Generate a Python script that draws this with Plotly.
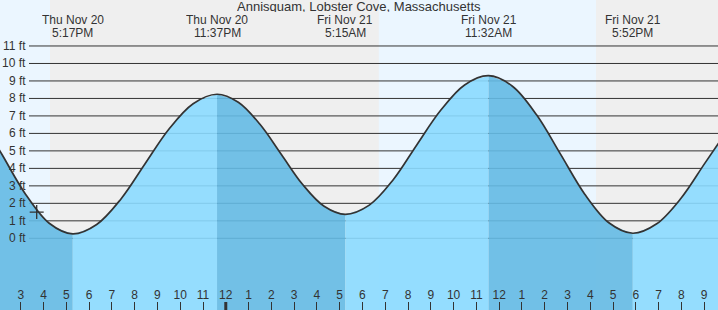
import pandas as pd
import plotly.graph_objects as go

# ---------------- data ----------------
title_text = "Annisquam, Lobster Cove, Massachusetts"

curve_times = [
    "2025-11-20 13:10", "2025-11-20 14:11", "2025-11-20 15:13", "2025-11-20 16:15",
    "2025-11-20 17:17",
    "2025-11-20 18:20", "2025-11-20 19:24", "2025-11-20 20:27", "2025-11-20 21:30",
    "2025-11-20 22:34",
    "2025-11-20 23:37",
    "2025-11-21 00:33", "2025-11-21 01:30", "2025-11-21 02:26", "2025-11-21 03:22",
    "2025-11-21 04:19",
    "2025-11-21 05:15",
    "2025-11-21 06:18", "2025-11-21 07:21", "2025-11-21 08:23", "2025-11-21 09:26",
    "2025-11-21 10:29",
    "2025-11-21 11:32",
    "2025-11-21 12:35", "2025-11-21 13:39", "2025-11-21 14:42", "2025-11-21 15:45",
    "2025-11-21 16:49",
    "2025-11-21 17:52",
    "2025-11-21 18:55", "2025-11-21 19:59", "2025-11-21 21:02", "2025-11-21 22:05",
]
curve_heights = [
    7.04, 4.78, 2.51, 0.86,
    0.25,
    0.79, 2.25, 4.25, 6.24,
    7.70,
    8.24,
    7.78, 6.52, 4.81, 3.09,
    1.83,
    1.37,
    1.90, 3.35, 5.34, 7.32,
    8.77,
    9.30,
    8.70, 7.05, 4.80, 2.54,
    0.89,
    0.29,
    0.83, 2.29, 4.30, 6.30,
]

extreme_times = ["2025-11-20 17:17", "2025-11-20 23:37", "2025-11-21 05:15",
                 "2025-11-21 11:32", "2025-11-21 17:52"]
extreme_heights = [0.25, 8.24, 1.37, 9.30, 0.29]

night_starts = ["2025-11-20 16:17", "2025-11-21 16:15"]
night_ends = ["2025-11-21 06:43", "2025-11-21 23:59"]

now_time = ["2025-11-20 15:42"]
now_height = [1.50]

height_ticks = [0, 1, 2, 3, 4, 5, 6, 7, 8, 9, 10, 11]
height_labels = [f"{v} ft" for v in height_ticks]

hour_tick_times = list(pd.date_range("2025-11-20 14:00", "2025-11-21 21:00", freq="h"))
hour_tick_labels = ["2", "3", "4", "5", "6", "7", "8", "9", "10", "11",
                    "12", "1", "2", "3", "4", "5", "6", "7", "8", "9", "10", "11",
                    "12", "1", "2", "3", "4", "5", "6", "7", "8", "9"]
midnight_ticks = ["2025-11-21 00:00"]

x_range = ["2025-11-20 14:05:20", "2025-11-21 21:36:25"]
y_range = [-4.10, 13.63]

# ---------------- styles ----------------
FONT = "Liberation Sans, Arial, sans-serif"
TXT = "#333333"
DAY_BG = "#ebf6ff"
NIGHT_BG = "#efefef"
FALL_FILL = "rgba(100,186,228,0.9)"
RISE_FILL = "rgba(139,218,255,0.9)"

fig = go.Figure()

# fill segments split at the extremes
times_ts = pd.to_datetime(curve_times)
ext_ts = pd.to_datetime(extreme_times)
split_idx = [0] + [list(times_ts).index(t) for t in ext_ts] + [len(curve_times) - 1]
for k in range(len(split_idx) - 1):
    a, b = split_idx[k], split_idx[k + 1]
    xs = curve_times[a:b + 1]
    ys = curve_heights[a:b + 1]
    falling = ys[-1] < ys[0]
    fig.add_trace(go.Scatter(x=xs, y=[y_range[0] - 2] * len(xs), mode="lines",
                             line=dict(width=0), hoverinfo="skip", showlegend=False))
    fig.add_trace(go.Scatter(x=xs, y=ys, mode="lines", fill="tonexty",
                             fillcolor=FALL_FILL if falling else RISE_FILL,
                             line=dict(width=0, shape="spline"),
                             hoverinfo="skip", showlegend=False))

# tide curve
fig.add_trace(go.Scatter(x=curve_times, y=curve_heights, mode="lines",
                         line=dict(color="#333333", width=1.7, shape="spline"),
                         showlegend=False))

# current time marker
fig.add_trace(go.Scatter(x=now_time, y=now_height, mode="markers",
                         marker=dict(symbol="cross-thin", size=10,
                                     line=dict(color="#333333", width=1.3)),
                         showlegend=False))

shapes = []
for s, e in zip(night_starts, night_ends):
    shapes.append(dict(type="rect", xref="x", yref="paper", x0=s, x1=e, y0=0, y1=1,
                       fillcolor=NIGHT_BG, line=dict(width=0), layer="below"))
for v in height_ticks:
    shapes.append(dict(type="line", xref="paper", yref="y", x0=29 / 718, x1=1, y0=v, y1=v,
                       line=dict(color="#333333", width=1), layer="below"))
for t in midnight_ticks:
    shapes.append(dict(type="line", xref="x", yref="paper", x0=t, x1=t, y0=0, y1=8 / 310,
                       line=dict(color="#333333", width=3), layer="above"))

annotations = [dict(text=title_text, xref="paper", yref="paper", x=0.5, y=1 - 6.3 / 310,
                    xanchor="center", yanchor="middle", showarrow=False,
                    height=12, borderpad=0,
                    font=dict(family=FONT, size=13, color=TXT))]
for v, lab in zip(height_ticks, height_labels):
    annotations.append(dict(text=lab, xref="paper", yref="y", x=27.5 / 718, y=v,
                            xanchor="right", yanchor="middle", showarrow=False,
                            font=dict(family=FONT, size=12, color=TXT)))
for t in ext_ts:
    day_lab = t.strftime("%a %b %-d")
    time_lab = t.strftime("%-I:%M%p")
    annotations.append(dict(text=day_lab, xref="x", yref="paper", x=t, y=1 - 20.0 / 310,
                            xanchor="center", yanchor="middle", showarrow=False,
                            height=11, borderpad=0,
                            font=dict(family=FONT, size=12, color=TXT)))
    annotations.append(dict(text=time_lab, xref="x", yref="paper", x=t, y=1 - 32.5 / 310,
                            xanchor="center", yanchor="middle", showarrow=False,
                            height=11, borderpad=0,
                            font=dict(family=FONT, size=12, color=TXT)))

fig.update_layout(
    width=718, height=310,
    margin=dict(l=0, r=0, t=0, b=0),
    paper_bgcolor=DAY_BG, plot_bgcolor=DAY_BG,
    showlegend=False,
    shapes=shapes, annotations=annotations,
    xaxis=dict(type="date", range=x_range, showgrid=False, zeroline=False, showline=False,
               tickmode="array", tickvals=hour_tick_times, ticktext=hour_tick_labels,
               ticks="inside", ticklen=8, tickwidth=1, tickcolor="#333333",
               ticklabelposition="inside",
               tickfont=dict(family=FONT, size=12, color=TXT)),
    yaxis=dict(range=y_range, visible=False, showgrid=False, zeroline=False),
)

fig.write_html("out.html")
